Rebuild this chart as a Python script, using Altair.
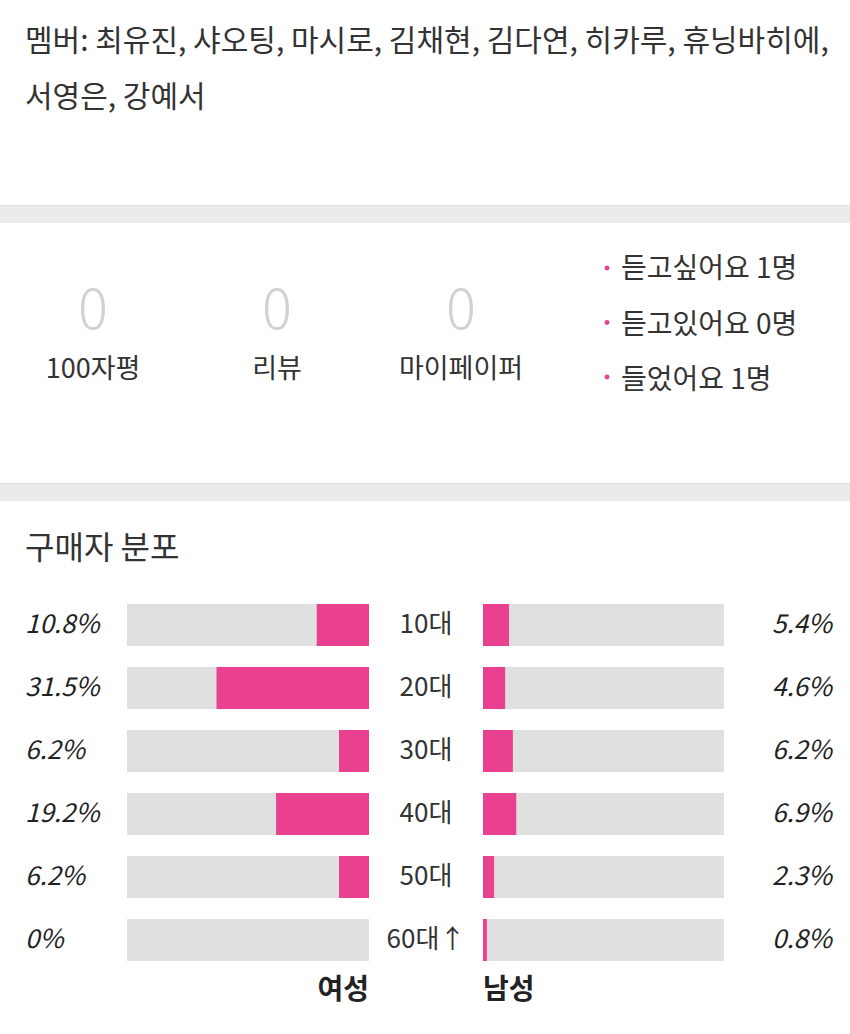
import altair as alt
import pandas as pd

# ---- data ----
members = ["최유진", "샤오팅", "마시로", "김채현", "김다연", "히카루", "휴닝바히에", "서영은", "강예서"]
stat_labels = ["100자평", "리뷰", "마이페이퍼"]
stat_counts = [0, 0, 0]
list_labels = ["듣고싶어요", "듣고있어요", "들었어요"]
list_counts = [1, 0, 1]
ages = ["10대", "20대", "30대", "40대", "50대", "60대↑"]
female = [10.8, 31.5, 6.2, 19.2, 6.2, 0]
male = [5.4, 4.6, 6.2, 6.9, 2.3, 0.8]
section_title = "구매자 분포"
gender_labels = ["여성", "남성"]

FONT = "Noto Sans CJK KR"
DARK = "#333333"
PINK = "#e9408f"
TRACK = "#e0e0e0"

def fmt(v):
    return f"{v:g}%"

df = pd.DataFrame({
    "age": ages,
    "female": female,
    "male": male,
    "female_lbl": [fmt(v) for v in female],
    "male_lbl": [fmt(v) for v in male],
})

yscale = alt.Scale(type="band", domain=ages, range=[604, 961], paddingInner=1/3, paddingOuter=0)
sf = alt.Scale(domain=[0, 50], range=[369, 127], zero=True, nice=False)
sm = alt.Scale(domain=[0, 50], range=[483, 724], zero=True, nice=False)
Y = alt.Y("age:N", scale=yscale, axis=None)

base = alt.Chart(df)

track_f = base.mark_bar(color=TRACK, cornerRadius=0).encode(
    x=alt.X(datum=0, type="quantitative", scale=sf, axis=None), x2=alt.X2(datum=50), y=Y)
bar_f = base.mark_bar(color=PINK).encode(
    x=alt.X("female:Q", scale=sf, axis=None), x2=alt.X2(datum=0), y=Y)
track_m = base.mark_bar(color=TRACK).encode(
    x=alt.X(datum=0, type="quantitative", scale=sm, axis=None), x2=alt.X2(datum=50), y=Y)
bar_m = base.mark_bar(color=PINK).encode(
    x=alt.X("male:Q", scale=sm, axis=None), x2=alt.X2(datum=0), y=Y)

lbl_f = base.mark_text(font=FONT, fontSize=26, fontStyle="italic", color="#222222",
                       align="left", baseline="middle").encode(
    x=alt.value(25), y=Y, text="female_lbl:N")
lbl_m = base.mark_text(font=FONT, fontSize=26, fontStyle="italic", color="#222222",
                       align="right", baseline="middle").encode(
    x=alt.value(832), y=Y, text="male_lbl:N")
lbl_age = base.mark_text(font=FONT, fontSize=26, color=DARK, align="center",
                         baseline="middle").encode(
    x=alt.value(426), y=Y, text="age:N")

def txt(s, x, y, size, color=DARK, align="left", weight="normal"):
    return alt.Chart(pd.DataFrame({"t": [s]})).mark_text(
        font=FONT, fontSize=size, color=color, align=align, baseline="middle",
        fontWeight=weight).encode(text="t:N", x=alt.value(x), y=alt.value(y))

line1 = "멤버: " + ", ".join(members[:7]) + ","
line2 = ", ".join(members[7:])

def sep(y0, y1):
    return [
        alt.Chart(pd.DataFrame({"a": [0]})).mark_rect(color="#ebebeb").encode(
            x=alt.value(0), x2=alt.value(850), y=alt.value(y0), y2=alt.value(y1)),
        alt.Chart(pd.DataFrame({"a": [0]})).mark_rule(color="#e0e0e0", strokeWidth=1).encode(
            x=alt.value(0), x2=alt.value(850), y=alt.value(y0 + 0.5)),
    ]

stats_df = pd.DataFrame({"label": stat_labels, "count": stat_counts})
sx = alt.Scale(type="point", domain=stat_labels, range=[93, 461], padding=0)
stat_nums = alt.Chart(stats_df).mark_text(font=FONT, fontSize=56, fontWeight=300,
                                           color="#d2d2d2", align="center", baseline="middle").encode(
    x=alt.X("label:N", scale=sx, axis=None), y=alt.value(312), text="count:Q")
stat_lbls = alt.Chart(stats_df).mark_text(font=FONT, fontSize=27, color=DARK,
                                           align="center", baseline="middle").encode(
    x=alt.X("label:N", scale=sx, axis=None), y=alt.value(370), text="label:N")

list_df = pd.DataFrame({"label": list_labels, "count": list_counts})
list_df["text"] = [f"{l} {c}명" for l, c in zip(list_labels, list_counts)]
sy = alt.Scale(type="point", domain=list_labels, range=[270, 381], padding=0)
list_txt = alt.Chart(list_df).mark_text(font=FONT, fontSize=28, color=DARK,
                                         align="left", baseline="middle").encode(
    x=alt.value(621), y=alt.Y("label:N", scale=sy, axis=None), text="text:N")
list_dot = alt.Chart(list_df).mark_circle(color=PINK, size=24, opacity=1).encode(
    x=alt.value(607), y=alt.Y("label:N", scale=alt.Scale(type="point", domain=list_labels,
                                                         range=[268, 377], padding=0), axis=None))

layers = (
    sep(205, 223) + sep(483, 501) + [
        txt(line1, 25, 42, 30),
        txt(line2, 25, 98, 30),
        stat_nums, stat_lbls, list_dot, list_txt,
        txt(section_title, 25, 549, 32),
        track_f, bar_f, track_m, bar_m, lbl_f, lbl_m, lbl_age,
        txt(gender_labels[0], 369, 991, 28, color="#222222", align="right", weight="bold"),
        txt(gender_labels[1], 483, 991, 28, color="#222222", align="left", weight="bold"),
    ]
)

chart = alt.layer(*layers).resolve_scale(x="independent", y="independent").properties(
    width=850, height=1034, autosize=alt.AutoSizeParams(type="none"), padding=0,
    background="white",
).configure_view(stroke=None)

chart.save("out.html", embed_options={"renderer": "svg", "actions": False})
